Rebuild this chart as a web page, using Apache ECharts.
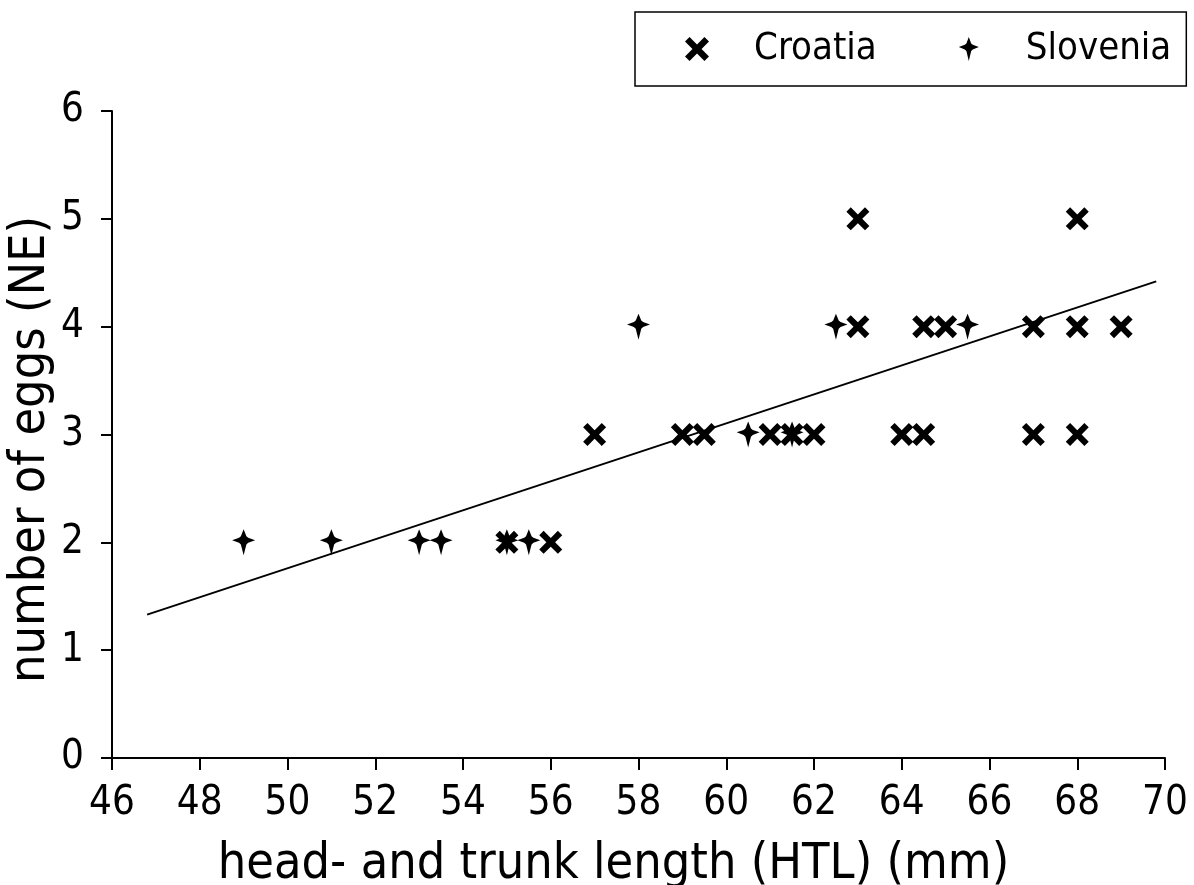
<!DOCTYPE html>
<html>
<head>
<meta charset="utf-8">
<script src="https://cdn.jsdelivr.net/npm/echarts@6/dist/echarts.min.js"></script>
<style>html,body{margin:0;padding:0;background:#fff}#c{width:1194px;height:885px}</style>
</head>
<body>
<div id="c"></div>
<script>
// Croatia (x markers)
var croatiaX = [55, 56, 57, 59, 59.5, 61, 61.5, 62, 63, 63, 64, 64.5, 64.5, 65, 67, 67, 68, 68, 68, 69];
var croatiaY = [2, 2, 3, 3, 3, 3, 3, 3, 5, 4, 3, 3, 4, 4, 4, 3, 5, 4, 3, 4];
// Slovenia (+ markers)
var sloveniaX = [49, 51, 53, 53.5, 55, 55.5, 58, 60.5, 61.5, 62.5, 65.5];
var sloveniaY = [2, 2, 2, 2, 2, 2, 4, 3, 3, 4, 4];
// regression line end points
var lineX = [46.8, 69.8];
var lineY = [1.33, 4.42];
var xTicks = [46, 48, 50, 52, 54, 56, 58, 60, 62, 64, 66, 68, 70];
var yTicks = [0, 1, 2, 3, 4, 5, 6];

function pairs(xs, ys) { return xs.map(function (x, i) { return [x, ys[i]]; }); }

var FONT = '"DejaVu Sans Condensed", "DejaVu Sans", sans-serif';
var crossPath = 'path://M0,3.8L3.8,0L10,6.2L16.2,0L20,3.8L13.8,10L20,16.2L16.2,20L10,13.8L3.8,20L0,16.2L6.2,10Z';
var plusPath = 'path://M10,0L12.4,6.4L14,7.8L20,10L14,12.4L12.4,14L10,24L7.6,14L6,12.4L0,10L6,7.8L7.6,6.4Z';

var chart = echarts.init(document.getElementById('c'), null, { renderer: 'canvas' });
chart.setOption({
  backgroundColor: '#fff',
  animation: false,
  grid: { left: 112, right: 29, top: 111, bottom: 127, containLabel: false, outerBoundsMode: 'none' },
  legend: {
    left: 635, top: 12,
    data: ['Croatia', 'Slovenia'],
    orient: 'horizontal',
    padding: [17, 15, 17, 50],
    itemGap: 82,
    itemWidth: 26, itemHeight: 24,
    borderColor: '#000', borderWidth: 1.5,
    textStyle: { fontFamily: FONT, fontSize: 38, color: '#000', lineHeight: 40, padding: [0, 0, 0, 39] }
  },
  xAxis: {
    type: 'value', min: xTicks[0], max: xTicks[xTicks.length - 1], interval: 2,
    name: 'head- and trunk length (HTL) (mm)', nameLocation: 'middle', nameGap: 82, nameMoveOverlap: false,
    nameTextStyle: { fontFamily: FONT, fontSize: 50, color: '#000', padding: [0, 50, 0, 0] },
    axisLine: { lineStyle: { color: '#000', width: 2 } },
    axisTick: { length: 12, lineStyle: { color: '#000', width: 2 } },
    axisLabel: { fontFamily: FONT, fontSize: 40, color: '#000', margin: 26 },
    splitLine: { show: false }
  },
  yAxis: {
    type: 'value', min: yTicks[0], max: yTicks[yTicks.length - 1], interval: 1,
    name: 'number of eggs (NE)', nameLocation: 'middle', nameGap: 56, nameMoveOverlap: false,
    nameTextStyle: { fontFamily: FONT, fontSize: 50, color: '#000', padding: [0, 30, 0, 0] },
    axisLine: { show: true, lineStyle: { color: '#000', width: 2 } },
    axisTick: { show: true, length: 11, lineStyle: { color: '#000', width: 2 } },
    axisLabel: { fontFamily: FONT, fontSize: 40, color: '#000', margin: 28 },
    splitLine: { show: false }
  },
  series: [
    {
      name: 'Croatia', type: 'scatter', data: pairs(croatiaX, croatiaY),
      symbol: crossPath, symbolSize: [23, 23],
      itemStyle: { color: '#000', opacity: 1 }, z: 3
    },
    {
      name: 'Slovenia', type: 'scatter', data: pairs(sloveniaX, sloveniaY),
      symbol: plusPath, symbolSize: [23, 26],
      itemStyle: { color: '#000', opacity: 1 }, z: 3
    },
    {
      name: 'fit', type: 'line', data: pairs(lineX, lineY),
      symbol: 'none', lineStyle: { color: '#000', width: 2 }, z: 2, silent: true
    }
  ]
});
</script>
</body>
</html>
